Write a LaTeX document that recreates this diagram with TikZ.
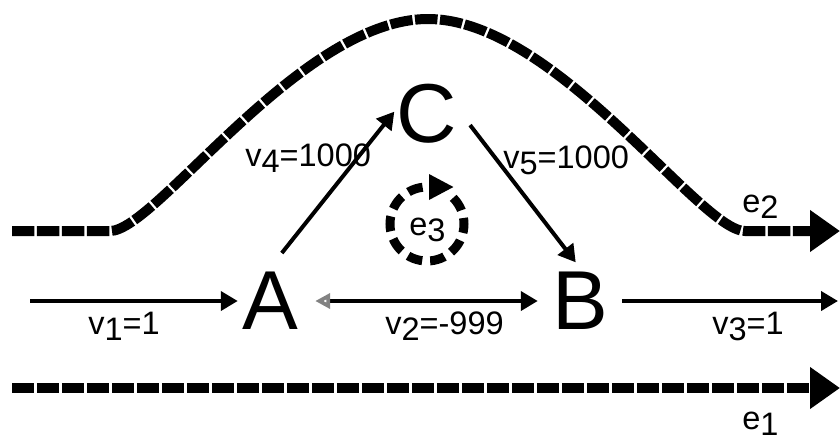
\documentclass[tikz,border=0pt]{standalone}
\usepackage{fontspec}
\setmainfont{Liberation Sans}
\usetikzlibrary{arrows.meta}
\definecolor{tipgray}{RGB}{130,130,130}
\newcommand{\idx}[1]{\raisebox{-0.13cm}{#1}}

\begin{document}
\begin{tikzpicture}[x=0.02cm, y=-0.02cm,
    vertex/.style={inner sep=0.08cm, font=\fontsize{47.6}{50}\selectfont},
    flowarrow/.style={line width=0.8mm, -{Triangle[length=3.4mm,width=3.8mm]}},
    pathline/.style={line width=2mm, dash pattern=on 4.5mm off 0.5mm,
      -{Triangle[length=6mm,width=8mm]}},
    looparrow/.style={line width=1.8mm, dash pattern=on 3mm off 1.6mm,
      -{Triangle[length=5mm,width=4.8mm]}},
    lbl/.style={anchor=base west, inner sep=0pt, font=\fontsize{18.5}{20}\selectfont}]
  \useasboundingbox (0,0) rectangle (840,441);
  % Vertices
  \node[vertex] (A) at (270,301) {A};
  \node[vertex] (B) at (580,301) {B};
  \node[vertex] (C) at (427,114) {C};
  \coordinate (in) at (30,301);
  \coordinate (out) at (838,301);
  % Flows
  \draw[flowarrow] (in) -- (A.west);
  \draw[flowarrow, {Triangle[open,length=3mm,width=3mm,tipgray]}-{Triangle[length=3.4mm,width=3.8mm]},
    shorten <=2.6mm, shorten >=2mm] (A.east) -- (B.west);
  \draw[flowarrow, shorten <=2mm] (B.east) -- (out);
  \draw[flowarrow, shorten <=3.8mm, shorten >=-0.6mm] (A.north) -- (C.west);
  \draw[flowarrow, shorten <=2.8mm, shorten >=1.4mm] (C.east) -- (B.north);
  \node[lbl] (v1) at (88,334) {v\idx{1}=1};
  \node[lbl] (v2) at (385,334) {v\idx{2}=-999};
  \node[lbl] (v3) at (712,334) {v\idx{3}=1};
  \node[lbl] (v4) at (245,166) {v\idx{4}=1000};
  \node[lbl] (v5) at (503,168) {v\idx{5}=1000};
  % Paths e1, e2 and cycle e3
  \draw[pathline] (12,231) -- (110,231) .. controls (156,231) and (300,19) .. (428,19)
    .. controls (555,19) and (700,231) .. (745,231) -- (840,231);
  \draw[pathline] (12,388) -- (840,388);
  \draw[looparrow] (427,224) ++(-45:37) arc[start angle=-45, end angle=270, radius=37] -- ++(27,0);
  \node[lbl] (e2) at (742,212) {e\idx{2}};
  \node[lbl] (e1) at (742,429) {e\idx{1}};
  \node[lbl] (e3) at (409,235) {e\idx{3}};
\end{tikzpicture}
\end{document}
